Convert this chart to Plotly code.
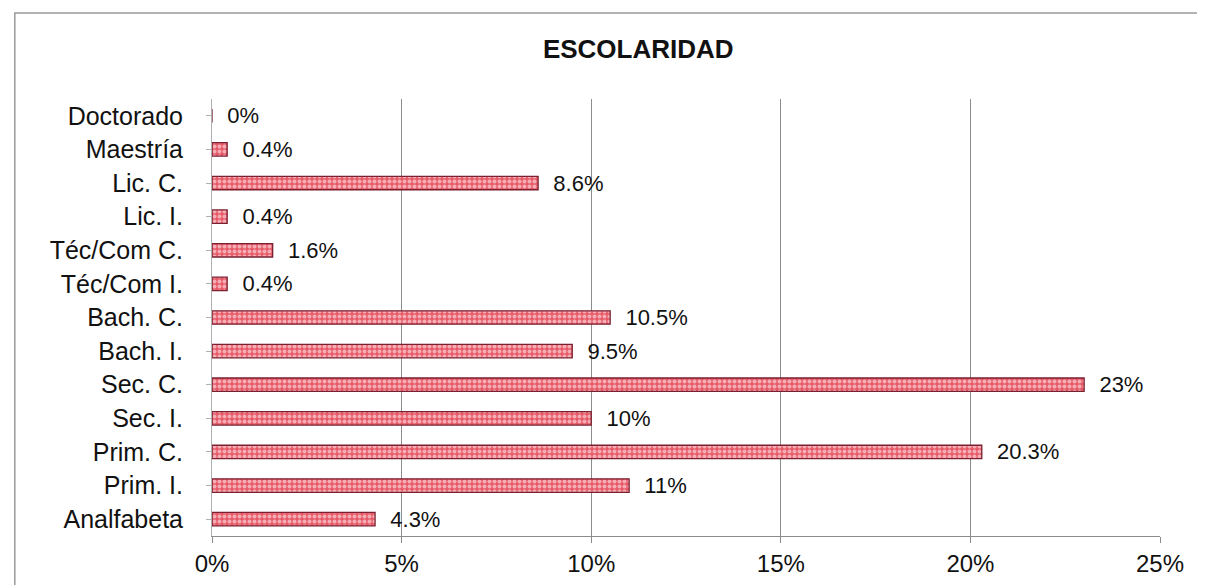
import plotly.graph_objects as go

categories = ["Analfabeta", "Prim. I.", "Prim. C.", "Sec. I.", "Sec. C.", "Bach. I.", "Bach. C.",
              "Téc/Com I.", "Téc/Com C.", "Lic. I.", "Lic. C.", "Maestría", "Doctorado"]
values = [4.3, 11, 20.3, 10, 23, 9.5, 10.5, 0.4, 1.6, 0.4, 8.6, 0.4, 0]
labels = ["4.3%", "11%", "20.3%", "10%", "23%", "9.5%", "10.5%", "0.4%", "1.6%", "0.4%", "8.6%", "0.4%", "0%"]
x_ticks = [0, 5, 10, 15, 20, 25]

FONT = "Liberation Sans, Arial"

fig = go.Figure()
fig.add_trace(go.Bar(
    y=categories, x=values, orientation="h",
    text=["  " + s for s in labels], textposition="outside", cliponaxis=False, constraintext="none",
    textfont=dict(size=22, color="#111", family=FONT),
    marker=dict(
        color="#e8606c",
        line=dict(color="#7a2030", width=1.3),
        pattern=dict(shape=".", fgcolor="#ffffff", bgcolor="#e85a68", size=5, solidity=0.5),
    ),
))

fig.update_layout(
    width=1205, height=585,
    margin=dict(l=204, r=53, t=91, b=57),
    paper_bgcolor="white", plot_bgcolor="white",
    bargap=0.6, showlegend=False,
    font=dict(family=FONT, size=22, color="#111"),
    title=dict(text="<b>ESCOLARIDAD</b>", x=0.523, xanchor="center", y=0.93, yanchor="middle",
               font=dict(size=26, family=FONT, color="#111")),
)
fig.update_xaxes(
    range=[0, 25], tickvals=x_ticks, ticktext=[f"{t}%" for t in x_ticks],
    showgrid=True, gridcolor="#8c8c8c", gridwidth=1,
    showline=True, linecolor="#8c8c8c", ticks="outside", ticklen=6, tickcolor="#8c8c8c",
    tickfont=dict(size=24), zeroline=False,
)
fig.update_yaxes(
    showline=True, linecolor="#b0b0b0", ticks="outside", ticklen=5, tickcolor="#b0b0b0",
    tickfont=dict(size=25), ticklabelstandoff=18, showgrid=False,
)
# outer chart frame
fig.add_shape(type="rect", xref="paper", yref="paper", x0=-0.208, x1=1.1, y0=-0.2, y1=1.197,
              line=dict(color="#9a9a9a", width=1.5), fillcolor="rgba(0,0,0,0)", layer="below")

fig.write_html("out.html")
